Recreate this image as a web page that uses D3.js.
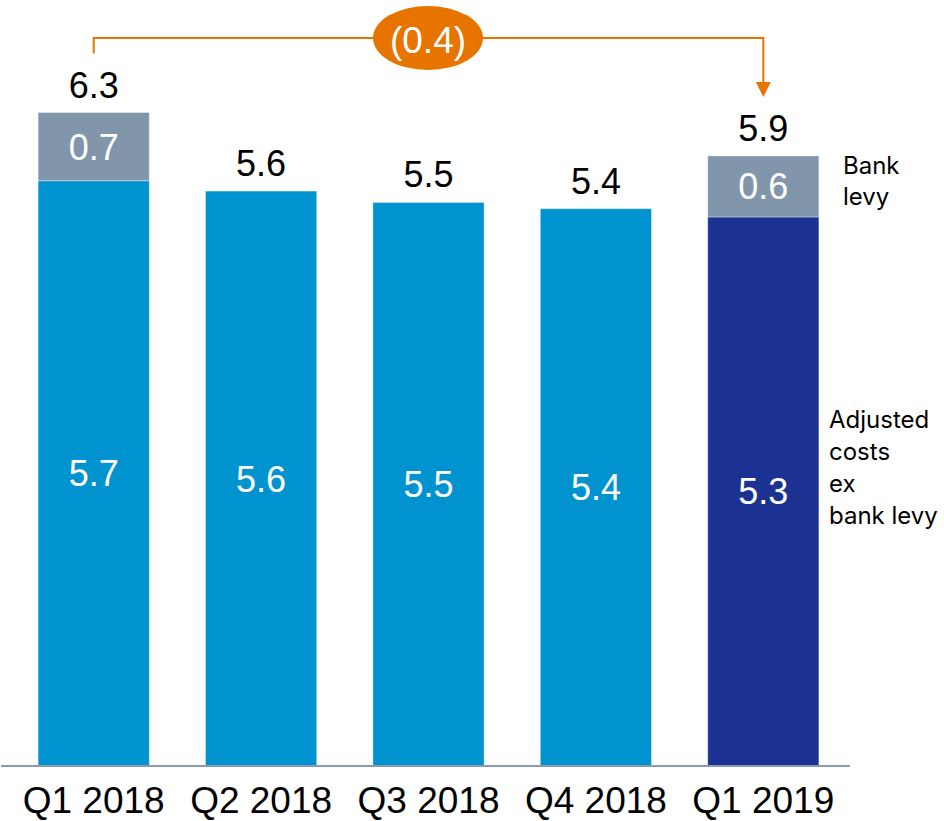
<!DOCTYPE html>
<html>
<head>
<meta charset="utf-8">
<script src="https://cdn.jsdelivr.net/npm/d3@7"></script>
<style>
  html, body { margin: 0; padding: 0; background: #ffffff; }
  svg { display: block; }
</style>
</head>
<body>
<svg id="chart" width="944" height="821"></svg>
<script>
// ---- data ----
const categories = ["Q1 2018", "Q2 2018", "Q3 2018", "Q4 2018", "Q1 2019"];
const adjustedCosts = [5.66, 5.56, 5.45, 5.39, 5.31];   // Adjusted costs ex bank levy
const bankLevy = [0.66, 0, 0, 0, 0.59];                 // Bank levy
const highlightCategory = "Q1 2019";
const seriesNames = ["Adjusted costs ex bank levy", "Bank levy"];
const legendBank = ["Bank", "levy"];
const legendAdjusted = ["Adjusted", "costs", "ex", "bank levy"];

// ---- styling ----
const colBlue = "#0093d0";
const colNavy = "#1b3293";
const colGrey = "#8196ab";
const colOrange = "#e87400";
const numFont = "'Liberation Sans', Arial, sans-serif";
const legFont = "Inter, 'Noto Sans', sans-serif";

const svg = d3.select("#chart");
const fmt = d3.format(".1f");
const totals = adjustedCosts.map((v, i) => v + bankLevy[i]);

const baseY = 766;
const pxPerUnit = 103.4;
const maxT = d3.max(totals);
const y = d3.scaleLinear().domain([0, maxT]).range([baseY, baseY - maxT * pxPerUnit]);
const x = d3.scaleBand().domain(categories).range([10, 847]).paddingInner(0.336).paddingOuter(0.168);

const rows = categories.map((c, i) => ({ c, adj: adjustedCosts[i], levy: bankLevy[i], total: totals[i] }));

// bars - adjusted
svg.append("g").selectAll("rect").data(rows).join("rect")
  .attr("x", d => x(d.c))
  .attr("width", x.bandwidth())
  .attr("y", d => y(d.adj))
  .attr("height", d => y(0) - y(d.adj))
  .attr("fill", d => d.c === highlightCategory ? colNavy : colBlue)
  .attr("stroke", "rgba(255,255,255,0.35)")
  .attr("stroke-width", 1);

// bars - bank levy
svg.append("g").selectAll("rect").data(rows.filter(d => d.levy > 0)).join("rect")
  .attr("x", d => x(d.c))
  .attr("width", x.bandwidth())
  .attr("y", d => y(d.total))
  .attr("height", d => y(d.adj) - y(d.total))
  .attr("fill", colGrey)
  .attr("stroke", "rgba(255,255,255,0.35)")
  .attr("stroke-width", 1);

// inner labels - adjusted
svg.append("g").selectAll("text").data(rows).join("text")
  .attr("x", d => x(d.c) + x.bandwidth() / 2)
  .attr("y", d => (y(d.adj) + y(0)) / 2)
  .attr("dy", "0.36em")
  .attr("text-anchor", "middle")
  .attr("font-family", numFont)
  .attr("font-size", 36)
  .attr("fill", "#ffffff")
  .text(d => fmt(d.adj));

// inner labels - levy
svg.append("g").selectAll("text").data(rows.filter(d => d.levy > 0)).join("text")
  .attr("x", d => x(d.c) + x.bandwidth() / 2)
  .attr("y", d => (y(d.total) + y(d.adj)) / 2)
  .attr("dy", "0.36em")
  .attr("text-anchor", "middle")
  .attr("font-family", numFont)
  .attr("font-size", 36)
  .attr("fill", "#ffffff")
  .text(d => fmt(d.levy));

// total labels
svg.append("g").selectAll("text").data(rows).join("text")
  .attr("x", d => x(d.c) + x.bandwidth() / 2)
  .attr("y", d => y(d.total) - 15)
  .attr("text-anchor", "middle")
  .attr("font-family", numFont)
  .attr("font-size", 36)
  .attr("fill", "#000000")
  .text(d => fmt(d.total));

// x axis
const axis = svg.append("g").attr("transform", `translate(0,${baseY})`)
  .call(d3.axisBottom(x).tickSize(0).tickPadding(0));
axis.select(".domain").attr("stroke", "#8a9bb0").attr("stroke-width", 2).attr("d", "M1,0H850");
axis.selectAll(".tick text")
  .attr("font-family", numFont)
  .attr("font-size", 37)
  .attr("fill", "#000")
  .attr("dy", null)
  .attr("y", 47);

// legend labels to the right
const lastRow = rows[rows.length - 1];
const legBank = svg.append("text")
  .attr("font-family", legFont).attr("font-size", 24).attr("fill", "#000");
legendBank.forEach((t, i) => {
  legBank.append("tspan").attr("x", 843).attr("y", (y(lastRow.total) + y(lastRow.adj)) / 2 - 12 + i * 31).text(t);
});
const legAdj = svg.append("text")
  .attr("font-family", legFont).attr("font-size", 24).attr("fill", "#000");
legendAdjusted.forEach((t, i) => {
  legAdj.append("tspan").attr("x", 829).attr("y", (y(lastRow.adj) + y(0)) / 2 - 63 + i * 32).text(t);
});

// change annotation
const first = rows[0];
const last = lastRow;
const change = last.total - first.total;
const cx1 = x(first.c) + x.bandwidth() / 2;
const cx2 = x(last.c) + x.bandwidth() / 2;
const bracketY = 38;
const y1End = y(first.total) - 15 - 26 - 18;
const y2End = y(last.total) - 15 - 26 - 18;
svg.append("path")
  .attr("d", `M${cx1},${y1End}V${bracketY}H${cx2}V${y2End - 14}`)
  .attr("fill", "none")
  .attr("stroke", colOrange)
  .attr("stroke-width", 2);
svg.append("path")
  .attr("d", `M${cx2 - 7.5},${y2End - 15}L${cx2 + 7.5},${y2End - 15}L${cx2},${y2End}Z`)
  .attr("fill", colOrange);
const ex = 428;
svg.append("ellipse")
  .attr("cx", ex).attr("cy", bracketY).attr("rx", 55).attr("ry", 32)
  .attr("fill", colOrange);
const chg = Math.abs(change);
svg.append("text")
  .attr("x", ex).attr("y", bracketY + 2)
  .attr("dy", "0.36em")
  .attr("text-anchor", "middle")
  .attr("font-family", numFont)
  .attr("font-size", 37)
  .attr("fill", "#ffffff")
  .text(change < 0 ? `(${fmt(chg)})` : fmt(chg));
</script>
</body>
</html>
